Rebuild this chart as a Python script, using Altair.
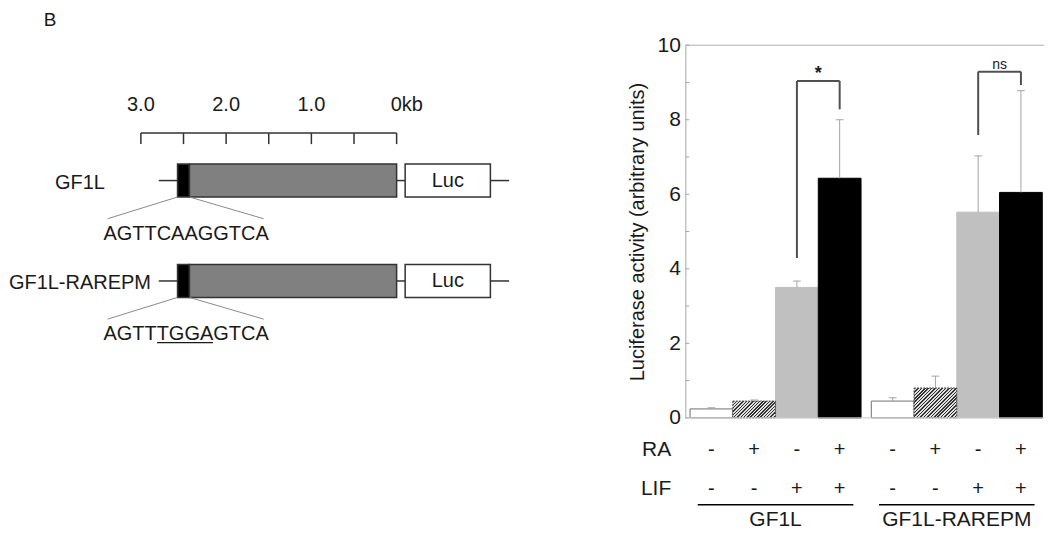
import altair as alt
import pandas as pd

FONT = "Liberation Sans"
INK = "#1a1a1a"

# ---------------- data: luciferase assay (right) ----------------
groups = ["GF1L", "GF1L-RAREPM"]
treatments = ["none", "RA", "LIF", "RA+LIF"]
factor_names = ["RA", "LIF"]
ra_signs = ["-", "+", "-", "+"]
lif_signs = ["-", "-", "+", "+"]
mean_gf1l = [0.24, 0.45, 3.50, 6.43]
err_gf1l = [0.03, 0.03, 0.17, 1.57]
mean_rarepm = [0.45, 0.80, 5.52, 6.05]
err_rarepm = [0.09, 0.32, 1.51, 2.73]

sig_groups = ["GF1L", "GF1L-RAREPM"]
sig_labels = ["*", "ns"]
sig_left_base = [4.29, 7.59]
sig_top = [9.04, 9.29]
sig_right_base = [8.28, 8.93]

# ---------------- data: construct schematic (left) ----------------
kb_ticks = [3.0, 2.5, 2.0, 1.5, 1.0, 0.5, 0.0]
kb_label_pos = [3.0, 2.0, 1.0, 0.0]
kb_labels = ["3.0", "2.0", "1.0", "0kb"]
constructs = ["GF1L", "GF1L-RAREPM"]
rare_seqs = ["AGTTCAAGGTCA", "AGTTTGGAGTCA"]
element_names = ["RARE", "promoter", "Luc"]
element_start = [2.57, 2.43, -0.10]
element_end = [2.43, 0.00, -1.10]
link_start = [2.79, 0.00, -1.10]
link_end = [2.57, -0.10, -1.32]
mutated_span = [2.81, 2.155]   # underlined TGGA in the mutant

# ---------------- styles ----------------
BAR_FILL = {"none": "#ffffff", "LIF": "#c0c0c0", "RA+LIF": "#000000"}
BAR_STROKE = {"none": "#707070", "LIF": "#c0c0c0", "RA+LIF": "#000000"}
ELEMENT_FILL = {"RARE": "#000000", "promoter": "#808080", "Luc": "#ffffff"}

# ---------------- layout ----------------
W_R, H_R = 359, 373
X_DOM = [-0.61, 7.78]
GAP = 0.24
W_L, H_L = 618, 373
PX_PER_KB = 85.33
KB_LEFT = 4.547
KB_RIGHT = KB_LEFT - W_L / PX_PER_KB
PX_PER_ROW = 100.5
ROW_TOP = -1.348
ROW_BOT = ROW_TOP + H_L / PX_PER_ROW
BOX_H = 0.164

px_x = W_R / (X_DOM[1] - X_DOM[0])
px_y = H_R / 10.0

# ---------------- tables ----------------
means = [mean_gf1l, mean_rarepm]
errs = [err_gf1l, err_rarepm]
recs = []
for gi, g in enumerate(groups):
    for ci, t in enumerate(treatments):
        xc = gi * (len(treatments) + GAP) + ci
        recs.append(dict(group=g, treatment=t, ra=ra_signs[ci], lif=lif_signs[ci],
                         xc=xc, x0=xc - 0.5, x1=xc + 0.5,
                         mean=means[gi][ci], upper=means[gi][ci] + errs[gi][ci], zero=0.0))
bars = pd.DataFrame(recs)

ROW_Y = {"RA": -0.86, "LIF": -1.91}
sign_recs = []
for r in recs:
    sign_recs.append(dict(xc=r["xc"], y=ROW_Y["RA"], s=r["ra"]))
    sign_recs.append(dict(xc=r["xc"], y=ROW_Y["LIF"], s=r["lif"]))
signs = pd.DataFrame(sign_recs)
factors = pd.DataFrame(dict(name=factor_names, y=[ROW_Y[f] for f in factor_names], x=[X_DOM[0] - 0.33] * 2))

grp_recs = []
for g in groups:
    c = bars[bars.group == g].xc.mean()
    grp_recs.append(dict(group=g, c=c, a=c - 1.82, b=c + 1.82, yl=-2.33, yt=-2.74))
grp = pd.DataFrame(grp_recs)

seg_recs, lab_recs = [], []
for i, g in enumerate(sig_groups):
    xl = bars[(bars.group == g) & (bars.treatment == "LIF")].xc.iloc[0]
    xr = bars[(bars.group == g) & (bars.treatment == "RA+LIF")].xc.iloc[0]
    seg_recs += [dict(x=xl, x2=xl, y=sig_left_base[i], y2=sig_top[i]),
                 dict(x=xl, x2=xr, y=sig_top[i], y2=sig_top[i]),
                 dict(x=xr, x2=xr, y=sig_right_base[i], y2=sig_top[i])]
    lab_recs.append(dict(x=(xl + xr) / 2, y=sig_top[i], label=sig_labels[i]))
segs = pd.DataFrame(seg_recs)
sig_lab = pd.DataFrame(lab_recs)

yticks = pd.DataFrame(dict(v=list(range(0, 11))))
one = pd.DataFrame(dict(v=[0]))

xs = alt.Scale(domain=X_DOM, nice=False, zero=False)
ys = alt.Scale(domain=[0, 10], nice=False, zero=False)

yaxis = alt.Axis(values=list(range(0, 11)), labelExpr="datum.value % 2 === 0 ? datum.label : ''",
                 ticks=False, tickSize=0, grid=False, domainColor="#a8a8a8", domainWidth=1,
                 labelFont=FONT, labelFontSize=21, labelColor=INK, labelPadding=5,
                 title="Luciferase activity (arbitrary units)", titleFont=FONT, titleFontSize=20,
                 titleFontWeight="normal", titleColor=INK, titlePadding=10)


def X(f):
    return alt.X(f, scale=xs, axis=None)


def Y(f):
    return alt.Y(f, scale=ys, axis=yaxis)


bar_layers = []
for t in ["none", "LIF", "RA+LIF"]:
    bar_layers.append(
        alt.Chart(bars).transform_filter(f"datum.treatment == '{t}'")
        .mark_rect(fill=BAR_FILL[t], stroke=BAR_STROKE[t], strokeWidth=1)
        .encode(x=X("x0:Q"), x2="x1:Q", y=Y("mean:Q"), y2="zero:Q")
    )


def hatch(w, h, period=3.4, dark=0.45):
    k = (w + h) / (w * w + h * h)
    n = max(1, int(round((w + h) / period)))
    stops = []
    for i in range(n):
        a, b, c = i / n, (i + dark) / n, (i + 1) / n
        stops += [alt.GradientStop(offset=a, color="#333333"), alt.GradientStop(offset=b, color="#333333"),
                  alt.GradientStop(offset=b, color="#dedede"), alt.GradientStop(offset=c, color="#dedede")]
    return alt.LinearGradient(gradient="linear", stops=stops, x1=0, y1=0, x2=k * w, y2=k * h)


for g in groups:
    m = float(bars[(bars.group == g) & (bars.treatment == "RA")]["mean"].iloc[0])
    bar_layers.append(
        alt.Chart(bars).transform_filter(f"datum.treatment == 'RA' && datum.group == '{g}'")
        .mark_rect(fill=hatch(px_x, m * px_y), stroke="#4a4a4a", strokeWidth=1, strokeDash=[2, 1])
        .encode(x=X("x0:Q"), x2="x1:Q", y=Y("mean:Q"), y2="zero:Q")
    )

err_rule = alt.Chart(bars).mark_rule(color="#a3a3a3", strokeWidth=1).encode(
    x=X("xc:Q"), y=Y("mean:Q"), y2="upper:Q")
err_cap = alt.Chart(bars).transform_calculate(c0="datum.xc - 0.09", c1="datum.xc + 0.09").mark_rule(
    color="#a3a3a3", strokeWidth=1).encode(x=X("c0:Q"), x2="c1:Q", y=Y("upper:Q"))

top_line = alt.Chart(one).transform_calculate(t="10").mark_rule(color="#b0b0b0", strokeWidth=1).encode(y=Y("t:Q"))
base_line = alt.Chart(one).mark_rule(color="#c8c8c8", strokeWidth=1).encode(y=Y("v:Q"))
in_ticks = alt.Chart(yticks).mark_rule(color="#a8a8a8", strokeWidth=1).encode(
    x=alt.value(0), x2=alt.value(4), y=Y("v:Q"))

bracket = alt.Chart(segs).mark_rule(color="#505050", strokeWidth=2).encode(
    x=X("x:Q"), x2="x2:Q", y=Y("y:Q"), y2="y2:Q")
star = alt.Chart(sig_lab).transform_filter("datum.label == '*'").mark_text(
    font=FONT, fontSize=18, fontWeight="bold", color=INK, baseline="alphabetic", dy=-2).encode(
    x=X("x:Q"), y=Y("y:Q"), text="label:N")
ns = alt.Chart(sig_lab).transform_filter("datum.label != '*'").mark_text(
    font=FONT, fontSize=14, color=INK, baseline="alphabetic", dy=-3).encode(
    x=X("x:Q"), y=Y("y:Q"), text="label:N")

sign_txt = alt.Chart(signs).mark_text(font=FONT, fontSize=20, color=INK, baseline="middle").encode(
    x=X("xc:Q"), y=Y("y:Q"), text="s:N")
factor_txt = alt.Chart(factors).mark_text(font=FONT, fontSize=21, color=INK, baseline="middle", align="right").encode(
    x=X("x:Q"), y=Y("y:Q"), text="name:N")
grp_line = alt.Chart(grp).mark_rule(color="#000000", strokeWidth=1.5).encode(
    x=X("a:Q"), x2="b:Q", y=Y("yl:Q"))
grp_txt = alt.Chart(grp).mark_text(font=FONT, fontSize=21, color=INK, baseline="middle").encode(
    x=X("c:Q"), y=Y("yt:Q"), text="group:N")

right = alt.layer(
    *bar_layers, base_line, top_line, in_ticks, err_rule, err_cap,
    bracket, star, ns, sign_txt, factor_txt, grp_line, grp_txt
).properties(width=W_R, height=H_R)

# ---------------- schematic tables ----------------
xk = alt.Scale(domain=[KB_RIGHT, KB_LEFT], reverse=True, nice=False, zero=False)
yk = alt.Scale(domain=[ROW_TOP, ROW_BOT], reverse=True, nice=False, zero=False)


def XK(f):
    return alt.X(f, scale=xk, axis=None)


def YK(f):
    return alt.Y(f, scale=yk, axis=None)


SCALE_Y, TICK_Y2, SCALE_LAB_Y = -0.473, -0.363, -0.751
scale_line = pd.DataFrame(dict(a=[max(kb_ticks)], b=[min(kb_ticks)], y=[SCALE_Y]))
scale_ticks = pd.DataFrame(dict(kb=kb_ticks, y=SCALE_Y, y2=TICK_Y2))
scale_labs = pd.DataFrame(dict(kb=kb_label_pos, label=kb_labels, y=SCALE_LAB_Y))

cons = pd.DataFrame(dict(name=constructs, row=list(range(len(constructs))), seq=rare_seqs))
el_recs, ln_recs, dg_recs = [], [], []
for ri, cname in enumerate(constructs):
    for en, s, e in zip(element_names, element_start, element_end):
        el_recs.append(dict(row=ri, element=en, s=s, e=e, y0=ri - BOX_H, y1=ri + BOX_H, c=(s + e) / 2))
    for s, e in zip(link_start, link_end):
        ln_recs.append(dict(row=ri, s=s, e=e))
    rs, re_ = element_start[0], element_end[0]
    dg_recs.append(dict(x=rs, x2=3.39, y=ri + BOX_H, y2=ri + 0.38))
    dg_recs.append(dict(x=re_, x2=1.56, y=ri + BOX_H, y2=ri + 0.38))
els = pd.DataFrame(el_recs)
lns = pd.DataFrame(ln_recs)
dgs = pd.DataFrame(dg_recs)
cons["seq_y"] = cons["row"] + 0.53
cons["label_x"] = 3.715
cons["seq_x"] = 2.47
under = pd.DataFrame(dict(a=[mutated_span[0]], b=[mutated_span[1]], y=[1 + 0.615]))

l_scale_line = alt.Chart(scale_line).mark_rule(color="#333333", strokeWidth=1.5).encode(
    x=XK("a:Q"), x2="b:Q", y=YK("y:Q"))
l_scale_ticks = alt.Chart(scale_ticks).mark_rule(color="#333333", strokeWidth=1.5).encode(
    x=XK("kb:Q"), y=YK("y:Q"), y2="y2:Q")
l_scale_num = alt.Chart(scale_labs).transform_filter("datum.kb != 0").mark_text(
    font=FONT, fontSize=20, color=INK, baseline="middle").encode(x=XK("kb:Q"), y=YK("y:Q"), text="label:N")
l_scale_kb = alt.Chart(scale_labs).transform_filter("datum.kb == 0").mark_text(
    font=FONT, fontSize=20, color=INK, baseline="middle", align="left", dx=-6).encode(
    x=XK("kb:Q"), y=YK("y:Q"), text="label:N")
l_links = alt.Chart(lns).mark_rule(color="#333333", strokeWidth=1.5).encode(
    x=XK("s:Q"), x2="e:Q", y=YK("row:Q"))
l_boxes = []
for en in element_names:
    l_boxes.append(
        alt.Chart(els).transform_filter(f"datum.element == '{en}'")
        .mark_rect(fill=ELEMENT_FILL[en], stroke="#333333", strokeWidth=1.5)
        .encode(x=XK("s:Q"), x2="e:Q", y=YK("y0:Q"), y2="y1:Q")
    )
l_luc = alt.Chart(els).transform_filter("datum.element == 'Luc'").mark_text(
    font=FONT, fontSize=20, color=INK, baseline="middle").encode(x=XK("c:Q"), y=YK("row:Q"), text="element:N")
l_names = alt.Chart(cons).mark_text(font=FONT, fontSize=20, color=INK, baseline="middle", dy=2).encode(
    x=XK("label_x:Q"), y=YK("row:Q"), text="name:N")
l_diag = alt.Chart(dgs).mark_rule(color="#8a8a8a", strokeWidth=1).encode(
    x=XK("x:Q"), x2="x2:Q", y=YK("y:Q"), y2="y2:Q")
l_seq = alt.Chart(cons).mark_text(font=FONT, fontSize=20, color=INK, baseline="middle").encode(
    x=XK("seq_x:Q"), y=YK("seq_y:Q"), text="seq:N")
l_under = alt.Chart(under).mark_rule(color=INK, strokeWidth=1.2).encode(
    x=XK("a:Q"), x2="b:Q", y=YK("y:Q"))

left = alt.layer(
    l_scale_line, l_scale_ticks, l_scale_num, l_scale_kb, l_links, *l_boxes, l_luc,
    l_names, l_diag, l_seq, l_under
).properties(width=W_L, height=H_L)

chart = alt.hconcat(left, right, spacing=0).properties(
    padding={"left": 0, "top": 3, "right": 0, "bottom": 0},
    title=alt.TitleParams("B", anchor="start", font=FONT, fontSize=19, fontWeight="normal",
                          color=INK, dx=35, offset=4),
).configure_view(stroke=None)

chart.save("out.html", embed_options={"renderer": "svg", "actions": False})
